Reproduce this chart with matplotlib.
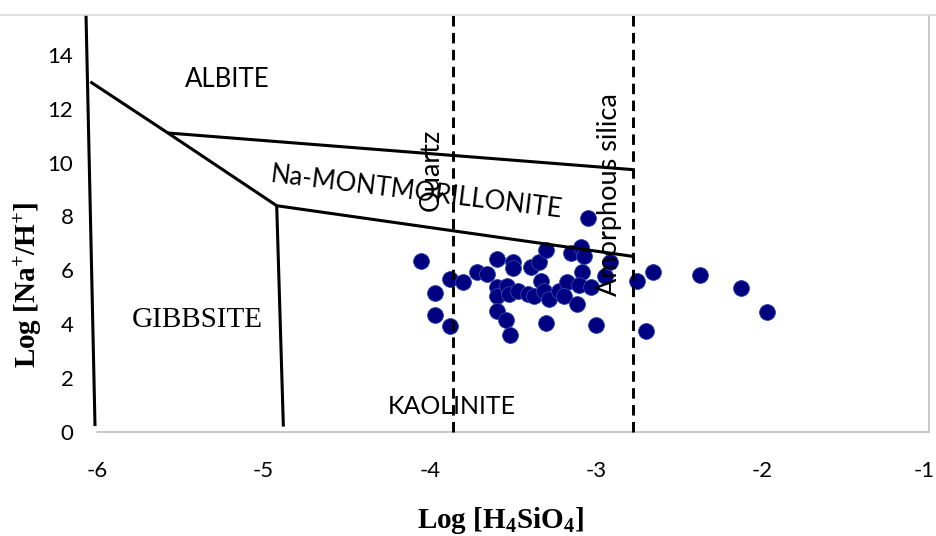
import matplotlib
matplotlib.use("Agg")
import matplotlib.pyplot as plt
from matplotlib.lines import Line2D
import matplotlib.transforms as mtransforms

plt.rcParams['mathtext.fontset'] = 'custom'
plt.rcParams['mathtext.rm'] = 'Liberation Serif'
plt.rcParams['mathtext.bf'] = 'Liberation Serif:bold'
plt.rcParams['mathtext.it'] = 'Liberation Serif:italic'

# ---- data ----
log_h4sio4 = [-4.055, -3.881, -3.803, -3.971, -3.971, -3.881, -3.719, -3.659, -3.599, -3.503,
              -3.497, -3.389, -3.341, -3.299, -3.149, -3.089, -3.071, -3.047, -3.083, -3.599,
              -3.599, -3.539, -3.527, -3.467, -3.407, -3.371, -3.329, -3.311, -3.281, -3.221,
              -3.173, -3.191, -3.113, -3.101, -3.029, -2.945, -2.915, -3.599, -3.545, -3.521,
              -3.299, -2.999, -2.753, -2.657, -2.375, -2.128, -1.972, -2.699]
log_na_h = [6.33, 5.67, 5.56, 5.15, 4.33, 3.93, 5.93, 5.85, 6.41, 6.30,
            6.07, 6.11, 6.30, 6.74, 6.63, 6.85, 6.52, 7.93, 5.93, 5.37,
            5.04, 5.41, 5.11, 5.22, 5.11, 5.04, 5.59, 5.22, 4.93, 5.22,
            5.56, 5.04, 4.74, 5.44, 5.37, 5.78, 6.30, 4.48, 4.15, 3.59,
            4.04, 3.96, 5.59, 5.93, 5.81, 5.33, 4.44, 3.74]

# phase boundaries (x = log H4SiO4, y = log Na/H)
left_bound_x = [-6.066, -6.012]
left_bound_y = [15.48, 0.22]
gibbsite_upper_x = [-6.04, -5.574, -4.92]
gibbsite_upper_y = [13.0, 11.1, 8.4]
gibbsite_kaol_x = [-4.92, -4.88]
gibbsite_kaol_y = [8.4, 0.2]
albite_mont_x = [-5.574, -2.78]
albite_mont_y = [11.1, 9.74]
mont_kaol_x = [-4.92, -2.78]
mont_kaol_y = [8.4, 6.52]

quartz_x = -3.86
amorph_x = -2.78

x_ticks = [-6, -5, -4, -3, -2, -1]
y_ticks = [0, 2, 4, 6, 8, 10, 12, 14]

# ---- figure ----
fig = plt.figure(figsize=(9.37, 5.36), dpi=100)
ax = fig.add_axes([97/937, 1-432/536, (929-97)/937, (432-15)/536])
ax.set_xlim(-6, -1)
ax.set_ylim(0, 15.48)

ax.scatter(log_h4sio4, log_na_h, s=130, color='#000080', edgecolors='#2a4aa8',
           linewidths=0.6, zorder=2)

lkw = dict(color='black', lw=2.2, clip_on=False, zorder=3, solid_capstyle='butt')
ax.plot(left_bound_x, left_bound_y, **lkw)
ax.plot(gibbsite_upper_x, gibbsite_upper_y, **lkw)
ax.plot(gibbsite_kaol_x, gibbsite_kaol_y, **lkw)
ax.plot(albite_mont_x, albite_mont_y, **lkw)
ax.plot(mont_kaol_x, mont_kaol_y, **lkw)

dkw = dict(color='black', lw=2.1, dashes=(3.6, 2.2), zorder=3, clip_on=False)
ax.plot([quartz_x, quartz_x], [0, 15.48], **dkw)
ax.plot([amorph_x, amorph_x], [0, 15.48], **dkw)

sans = ['Lato', 'DejaVu Sans']
ax.text(-5.22, 13.07, 'ALBITE', fontsize=18.5, family=sans, ha='center', va='center', zorder=4)
ax.text(-4.08, 8.89, 'Na-MONTMORILLONITE', fontsize=18.5, family=sans, ha='center', va='center',
        rotation=-7, rotation_mode='anchor', zorder=4)
ax.text(-5.40, 4.15, 'GIBBSITE', fontsize=21, family='Liberation Serif', ha='center', va='center', zorder=4)
ax.text(-3.87, 0.93, 'KAOLINITE', fontsize=18, family=sans, ha='center', va='center', zorder=4)
ax.text(-3.99, 9.74, 'Quartz', fontsize=19.5, family=sans, ha='center', va='center', rotation=90, zorder=4)
ax.text(-2.92, 8.81, 'Amorphous silica', fontsize=19.5, family=sans, ha='center', va='center', rotation=90, zorder=4)

ax.set_xticks(x_ticks)
ax.set_yticks(y_ticks)
ax.set_xticklabels([str(v) for v in x_ticks], family=sans, fontsize=16)
ax.set_yticklabels([str(v) for v in y_ticks], family=sans, fontsize=16)
ax.tick_params(axis='x', length=0, pad=21)
ax.tick_params(axis='y', length=0, pad=17)

# keep the last x tick label inside the canvas
last = ax.get_xticklabels()[-1]
last.set_transform(last.get_transform() + mtransforms.ScaledTranslation(-5/100, 0, fig.dpi_scale_trans))

for s in ['top', 'left']:
    ax.spines[s].set_visible(False)
for s in ['bottom', 'right']:
    ax.spines[s].set_color('#BFBFBF')
    ax.spines[s].set_linewidth(1.2)

fig.add_artist(Line2D([0, 1], [1-15/536, 1-15/536], transform=fig.transFigure,
                      color='#D9D9D9', lw=1.2))

fig.text(500/937, 1-520/536, r'$\mathbf{Log\ [H_4SiO_4]}$', fontsize=21, ha='center', va='center')
fig.text(28/937, 1-285/536, r'$\mathbf{Log\ [Na^{+}/H^{+}]}$', fontsize=21, ha='center', va='center',
         rotation=90)

fig.savefig('out.png', dpi=100)
